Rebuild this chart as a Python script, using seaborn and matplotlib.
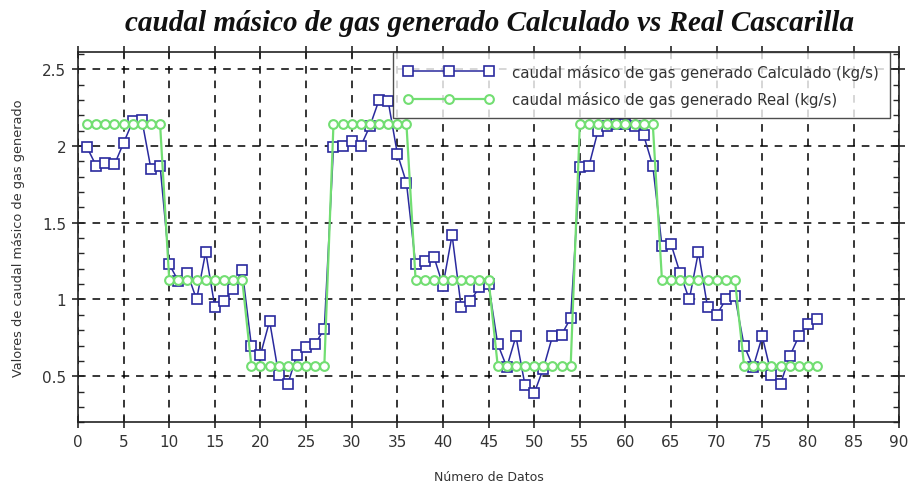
import numpy as np
import pandas as pd
import matplotlib
matplotlib.use("Agg")
import matplotlib.pyplot as plt
import seaborn as sns
from matplotlib.ticker import MultipleLocator

sns.set_style("white")
plt.rcParams['font.family'] = ['DejaVu Sans']

x_datos = list(range(1, 82))
calculado = [1.99, 1.87, 1.89, 1.88, 2.02, 2.16, 2.17, 1.85, 1.87,
             1.23, 1.12, 1.17, 1.00, 1.31, 0.95, 0.99, 1.07, 1.19,
             0.70, 0.64, 0.86, 0.51, 0.45, 0.64, 0.69, 0.71, 0.81,
             1.99, 2.00, 2.03, 2.00, 2.13, 2.30, 2.29, 1.95, 1.76,
             1.23, 1.25, 1.28, 1.09, 1.42, 0.95, 0.99, 1.08, 1.10,
             0.71, 0.56, 0.76, 0.44, 0.39, 0.55, 0.76, 0.77, 0.88,
             1.86, 1.87, 2.10, 2.13, 2.14, 2.14, 2.13, 2.07, 1.87,
             1.35, 1.36, 1.17, 1.00, 1.31, 0.95, 0.90, 1.00, 1.02,
             0.70, 0.56, 0.76, 0.51, 0.45, 0.63, 0.76, 0.84, 0.87]
real = ([2.14] * 9 + [1.13] * 9 + [0.57] * 9) * 3

lbl_calc = "caudal másico de gas generado Calculado (kg/s)"
lbl_real = "caudal másico de gas generado Real (kg/s)"
titulo = "caudal másico de gas generado Calculado vs Real Cascarilla"
xlabel = "Número de Datos"
ylabel = "Valores de caudal másico de gas generado"

df = pd.DataFrame({"x": x_datos, "calc": calculado, "real": real})

fig = plt.figure(figsize=(9.11, 4.89), dpi=100)
ax = fig.add_axes([0.0856, 0.1343, 0.9014, 0.7567])

blue = "#2a2a9e"
green = "#72de72"

sns.lineplot(data=df, x="x", y="calc", ax=ax, color=blue, lw=1.1,
             marker="s", markersize=6.8, markerfacecolor="white",
             markeredgecolor=blue, markeredgewidth=1.2, label=lbl_calc, zorder=3)
sns.lineplot(data=df, x="x", y="real", ax=ax, color=green, lw=1.6,
             marker="o", markersize=6.3, markerfacecolor="white",
             markeredgecolor=green, markeredgewidth=1.5, label=lbl_real, zorder=4)

ax.set_xlim(0, 90)
ax.set_ylim(0.2, 2.61)
ax.xaxis.set_major_locator(MultipleLocator(5))
ax.yaxis.set_minor_locator(MultipleLocator(0.1))
ax.set_yticks([0.5, 1.0, 1.5, 2.0, 2.5])
ax.set_yticklabels(["0.5", "1", "1.5", "2", "2.5"])

ax.grid(True, which="major", color="black", linestyle=(0, (5, 4.5)), lw=1.1)
for s in ax.spines.values():
    s.set_visible(True)
    s.set_color("#222222")
    s.set_linewidth(1.2)

ax.tick_params(which="major", direction="inout", length=9, width=1.2,
               top=True, right=True, bottom=True, left=True,
               labelsize=11, labelcolor="#333333", pad=4)
ax.tick_params(which="minor", direction="in", length=4, width=1.0,
               left=True, right=True)

ax.set_xlabel(xlabel, fontsize=9, color="#333333", labelpad=15)
ax.set_ylabel(ylabel, fontsize=9.3, color="#333333", labelpad=12)
fig.suptitle(titulo, x=0.537, y=0.98, fontsize=21, fontweight="bold",
             fontstyle="italic", family=["Liberation Serif"], color="#111111")

leg = ax.legend(loc="upper right", bbox_to_anchor=(0.989, 1.0), numpoints=3,
                handlelength=6.0, fontsize=10.8, frameon=True, fancybox=False,
                borderpad=0.75, labelspacing=0.75, handletextpad=1.2,
                borderaxespad=0)
leg.get_frame().set_edgecolor("#222222")
leg.get_frame().set_linewidth(1.0)
for t in leg.get_texts():
    t.set_color("#333333")

fig.savefig("out.png", dpi=100)
